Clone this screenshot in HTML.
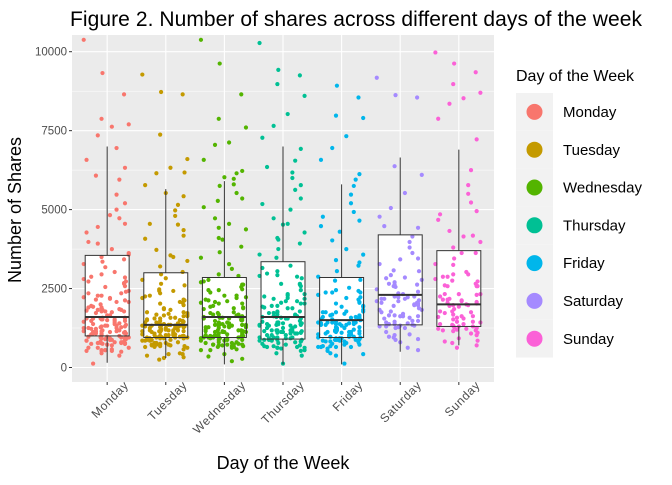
<!DOCTYPE html>
<html><head><meta charset="utf-8"><style>
body{margin:0;background:#fff;}
svg text{font-family:"Liberation Sans",Arial,sans-serif;}
</style></head><body>
<svg id="chart" width="672" height="480" xmlns="http://www.w3.org/2000/svg">
<text x="70" y="26" font-size="21" textLength="572" fill="#000">Figure 2. Number of shares across different days of the week</text>
<rect x="72" y="35" width="422" height="347" fill="#ebebeb"/>
<g id="grid"></g><g id="boxes"></g><g id="pts"></g><g id="boxlines"></g><g id="axes"></g>
<text transform="translate(21,210) rotate(-90)" text-anchor="middle" font-size="18">Number of Shares</text>
<text x="283" y="469" text-anchor="middle" font-size="18">Day of the Week</text>
<g id="legend"></g>
</svg>
<script>
const categories=["Monday","Tuesday","Wednesday","Thursday","Friday","Saturday","Sunday"];
const colors=["#F8766D","#C49A00","#53B400","#00C094","#00B6EB","#A58AFF","#FB61D7"];
const yTicks=[0,2500,5000,7500,10000];
const q1=[1000,950,950,900,950,1350,1300];
const med=[1600,1350,1600,1600,1500,2300,2000];
const q3=[3550,3000,2850,3350,2850,4200,3700];
const whiskLo=[150,300,100,100,100,500,700];
const whiskHi=[7000,5650,5900,7000,5800,6650,6900];
const valsMon=[103,94,87,79,77,76,73,65,64,60,55,50,47,45,42,40,38,36,35,34,33,32,31,30,29,28,27,26,25,25,24,23,22,21,21,20,20,19,19,18,18,17,17,16,16,16,15,15,15,14,14,14,13,13,13,12,12,12,12,11,11,11,11,10,10,10,10,9,9,9,9,8,8,8,8,7,7,7,6,6,6,5,5,4,3,2,70,61,52,48,44,39,37,29,27,24,22,19,17,15,13,12,11,10,9,8,7,
 16,15,14,13,12,11,10,9,8,7,6,5,17,16,15,14,13,12,11,10,9,8,21,19,18,16,15,13,12,11,10,9,8,7,6,26,23,20,18,16,14,12,11,10,9,8,7,31,28,24,22,19,17,15,13,12,11,9,8,6,5];
const valsTue=[92,88,87,74,66,63,61,57,55,52,50,48,45,43,40,38,36,34,32,30,29,27,25,24,23,22,21,20,19,18,18,17,17,16,15,15,14,14,14,13,13,13,13,12,12,12,12,11,11,11,11,10,10,10,9,9,9,8,8,8,7,7,6,6,5,5,4,3,3,2,61,56,46,42,35,28,26,24,21,19,16,15,14,13,12,12,11,11,10,10,9,8,7,
 15,14,13,13,12,12,11,11,10,10,9,9,8,8,7,6,14,13,12,11,10,9,8,7,16,15,14,13,12,11,10,9,8,6,5,18,17,15,14,13,12,11,10,9,8,7,22,20,19,17,15,14,13,12,11,10,9,8,26,24,21,18,16,14,12,10];
const valsWed=[103,97,87,79,76,71,70,65,63,62,60,58,55,53,50,48,46,44,41,38,36,34,32,30,28,27,26,25,24,23,22,21,21,20,19,18,18,17,17,16,16,15,15,14,14,14,13,13,13,12,12,12,12,11,11,11,11,10,10,10,10,9,9,9,8,8,8,7,7,6,6,5,4,3,2,60,57,52,45,41,33,29,27,24,22,20,18,17,15,14,13,12,12,11,10,10,9,9,8,7,6,
 16,15,14,13,12,11,10,9,8,7,6,5,17,16,15,14,13,12,11,10,9,8,7,21,20,18,16,14,13,12,11,10,9,8,7,24,22,20,18,16,14,12,11,10,9,8,6,27,25,23,19,17,15,13,11,10,9,8,7,5];
const valsThu=[102,95,93,90,86,80,76,72,70,66,62,60,56,53,51,48,46,43,41,39,37,35,33,31,30,29,28,26,25,24,23,22,21,20,19,18,18,17,17,16,16,15,15,15,14,14,14,13,13,13,12,12,12,11,11,11,10,10,10,9,9,9,8,8,8,7,7,6,5,4,3,2,64,58,50,45,40,34,30,27,23,21,19,17,16,14,13,12,11,10,9,8,7,
 16,15,14,13,12,11,10,9,8,7,6,5,18,17,15,14,13,12,11,10,9,8,7,22,20,19,17,15,14,12,11,10,9,8,27,25,22,19,17,15,13,11,10,9,8,6,31,28,24,21,18,16,14,12,10,9,7];
const valsFri=[105,90,86,80,79,73,69,65,62,58,55,52,49,46,44,41,38,36,34,32,30,28,26,25,24,23,22,21,20,19,18,17,17,16,16,15,15,15,14,14,14,13,13,12,12,12,11,11,11,10,10,10,9,9,9,8,8,8,7,7,6,5,4,3,2,60,48,43,33,27,23,20,18,16,14,13,12,11,10,9,8,
 16,15,14,13,12,11,10,9,8,7,6,5,17,16,15,14,13,12,11,10,9,8,20,19,17,16,14,13,12,11,10,9,8,7,24,22,19,17,15,13,11,10,9,8,6,27,25,21,18,16,14,12,10,9,7];
const valsSat=[91,87,86,64,61,55,50,47,45,42,40,38,36,34,32,30,29,28,27,26,25,24,23,23,22,21,21,20,19,19,18,18,17,16,16,15,15,14,14,13,13,12,12,11,10,9,8,6,5,44,35,31,26,24,22,20,19,17,15,14,13,
 28,26,25,24,23,22,21,20,19,18,17,16,15,14,13,12,30,27,24,22,20,18,16,14,12,11,10,9];
const valsSun=[99,97,94,90,87,85,83,78,73,63,58,55,52,49,46,44,42,40,38,36,34,32,31,30,29,28,27,26,25,24,23,22,21,20,20,19,18,18,17,16,16,15,15,14,14,13,13,12,12,11,10,9,8,7,6,48,41,37,33,29,26,23,21,19,17,15,14,12,10,
 27,25,24,22,21,20,19,18,17,16,15,14,13,12,11,10,9,30,26,23,21,19,17,15,13,12,11];
const allVals=[valsMon,valsTue,valsWed,valsThu,valsFri,valsSat,valsSun];

const NS="http://www.w3.org/2000/svg";
const px0=72,pw=422,pTop=35,pBot=382;
const step=pw/7.2;
const xS=i=>px0+step*(i+0.6);
const yS=v=>367.5-v*(367.5-51.7)/10000;
function mk(tag,attrs,parent){const e=document.createElementNS(NS,tag);for(const k in attrs)e.setAttribute(k,attrs[k]);parent.appendChild(e);return e;}
const grid=document.getElementById('grid');
for(let v=-1250;v<=11250;v+=1250){const y=yS(v);if(y<pTop||y>pBot)continue;
 const ln=mk('line',{x1:px0,x2:px0+pw,y1:y,y2:y,stroke:'#fff','stroke-width':(v%2500===0)?1.1:0.5},grid);
 
 }
categories.forEach((c,i)=>{const ln=mk('line',{x1:xS(i),x2:xS(i),y1:pTop,y2:pBot,stroke:'#fff','stroke-width':1.1},grid);
 
 });
const axes=document.getElementById('axes');
yTicks.forEach(t=>{const y=yS(t);
 const tk=mk('line',{x1:px0-3,x2:px0,y1:y,y2:y,stroke:'#333'},axes);
 
 
 const tx=mk('text',{x:px0-5,y:y+4,'text-anchor':'end','font-size':11.5,fill:'#4d4d4d'},axes);tx.textContent=t;
 
 });
categories.forEach((c,i)=>{const x=xS(i);
 const tk=mk('line',{x1:x,x2:x,y1:pBot,y2:pBot+3,stroke:'#333'},axes);
 
 
 const tx=mk('text',{transform:`translate(${x+22},${pBot+4}) rotate(-45)`,'text-anchor':'end','font-size':12,fill:'#4d4d4d','letter-spacing':'0.6'},axes);tx.textContent=c;
 
 });
const boxes=document.getElementById('boxes'),bl=document.getElementById('boxlines'),pts=document.getElementById('pts');
const bw=step*0.75;
categories.forEach((c,i)=>{const x=xS(i);
 const r=mk('rect',{x:x-bw/2,y:yS(q3[i]),width:bw,height:yS(q1[i])-yS(q3[i]),fill:'#fff'},boxes);
 
 
 allVals[i].forEach((v,j)=>{const jit=(((j*37+j*j*3)%100)/100-0.5)*0.8*step;
  const y=yS(v*100)+((j*13)%7-3)*0.8;if(y<pTop)return;
  const p=mk('circle',{cx:x+jit,cy:y,r:2.1,fill:colors[i]},pts);
  
  });
 const w=mk('path',{d:`M${x},${yS(whiskHi[i])}V${yS(q3[i])}M${x},${yS(q1[i])}V${yS(whiskLo[i])}`,stroke:'#333','stroke-width':1,fill:'none'},bl);
 
 
 const o=mk('rect',{x:x-bw/2,y:yS(q3[i]),width:bw,height:yS(q1[i])-yS(q3[i]),fill:'none',stroke:'#333','stroke-width':1},bl);
 
 
 const m=mk('line',{x1:x-bw/2,x2:x+bw/2,y1:yS(med[i]),y2:yS(med[i]),stroke:'#333','stroke-width':2},bl);
 
 });
const lg=document.getElementById('legend');
const lt=mk('text',{x:516,y:81,'font-size':16},lg);lt.textContent='Day of the Week';


categories.forEach((c,i)=>{const y=93+i*37.8;
 const bg=mk('rect',{x:516,y:y,width:37,height:37.8,fill:'#f2f2f2'},lg);
 
 
 const ci=mk('circle',{cx:534.5,cy:y+18.9,r:8,fill:colors[i]},lg);
 
 
 const t=mk('text',{x:563,y:y+24,'font-size':15},lg);t.textContent=c;
 
 });
</script>
</body></html>
